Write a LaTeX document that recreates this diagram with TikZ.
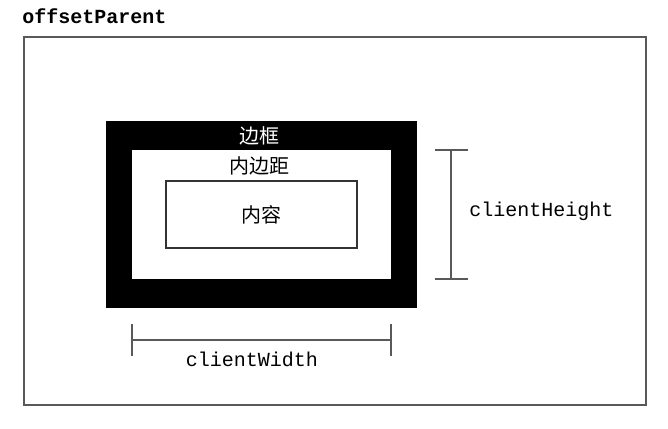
\documentclass[tikz,border=0pt]{standalone}
\usepackage{fontspec}
\setmonofont{Liberation Mono}
\newfontfamily\cjk{Noto Sans CJK SC}

\begin{document}
\begin{tikzpicture}[x=0.5pt,y=-0.5pt,
	frame/.style={draw=black!65, line width=1pt, rectangle, inner sep=0pt},
	dim/.style={draw=black!65, line width=1pt},
	code/.style={font=\fontsize{10}{12}\selectfont\ttfamily, inner sep=0pt},
	zh/.style={font=\fontsize{10}{12}\selectfont\cjk, inner sep=0pt}]
	\useasboundingbox (0,0) rectangle (668,428);
	\node[code, font=\fontsize{10}{12}\selectfont\ttfamily\bfseries, anchor=base west] (title) at (22,24) {offsetParent};
	\node[frame, minimum width=311pt, minimum height=184pt] (parent) at (335,221) {};
	\node[frame, draw=black, fill=black, minimum width=154.5pt, minimum height=92.5pt] (border) at (261.5,214.5) {};
	\node[frame, draw=none, fill=white, minimum width=129.5pt, minimum height=64.5pt] (padding) at (261.5,214.5) {};
	\node[frame, draw=black!80, line width=0.6pt, minimum width=95.5pt, minimum height=33.5pt, zh] (content) at (261.5,214.5) {内容};
		\node[zh, text=white] (borderlbl) at (259,136) {边框};
		\node[zh] (paddinglbl) at (259,166) {内边距};
	% clientHeight
	\coordinate (htop) at (451,150);
	\coordinate (hbot) at (451,279);
	\draw[dim] (htop) -- (hbot);
	\draw[dim] ([xshift=-8.25pt]htop) -- ([xshift=8.25pt]htop);
	\draw[dim] ([xshift=-8.25pt]hbot) -- ([xshift=8.25pt]hbot);
	\node[code, anchor=west] (heightlbl) at (469,211) {clientHeight};
	% clientWidth
	\coordinate (wleft) at (132,340);
	\coordinate (wright) at (391,340);
	\draw[dim] (wleft) -- (wright);
	\draw[dim] ([yshift=-8pt]wleft) -- ([yshift=8pt]wleft);
	\draw[dim] ([yshift=-8pt]wright) -- ([yshift=8pt]wright);
	\node[code] (widthlbl) at (252,359) {clientWidth};
\end{tikzpicture}
\end{document}
